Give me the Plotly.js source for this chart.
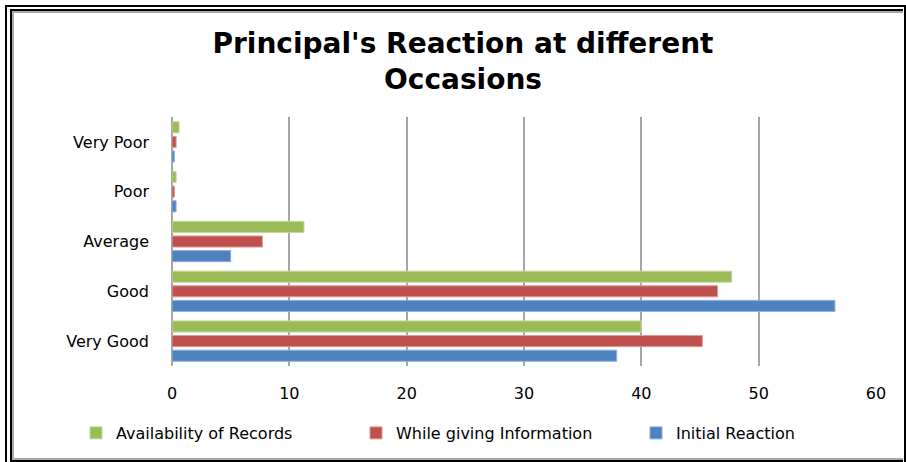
<!DOCTYPE html>
<html>
<head>
<meta charset="utf-8">
<script src="https://cdn.plot.ly/plotly-3.0.1.min.js"></script>
<style>
  html, body { margin: 0; padding: 0; background: #fff; }
  #chart { position: absolute; left: 0; top: 0; width: 906px; height: 462px; }
  .frame { position: absolute; pointer-events: none; box-sizing: border-box; }
</style>
</head>
<body>
<div id="chart"></div>
<div class="frame" style="left:5px; top:5px; width:901px; height:470px; border:2px solid #000;"></div>
<div class="frame" style="left:10px; top:9px; width:893px; height:453px; border:2px solid #000; border-right:none;"></div>
<div class="frame" style="left:12px; top:11px; width:891px; height:449px; border-left:2px solid #a8a8a8; border-top:2px solid #a8a8a8; border-bottom:2px solid #a8a8a8;"></div>
<script>
var categories = ['Very Good', 'Good', 'Average', 'Poor', 'Very Poor'];
var initialReaction = [37.9, 56.5, 5.0, 0.35, 0.2];
var whileGivingInformation = [45.2, 46.5, 7.7, 0.2, 0.35];
var availabilityOfRecords = [40.0, 47.7, 11.25, 0.35, 0.6];
var xTicks = [0, 10, 20, 30, 40, 50, 60];

var traces = [
  {name: 'Initial Reaction', y: categories, x: initialReaction, color: '#4F81BD', edge: '#8EB0DD', legend: 'legend3'},
  {name: 'While giving Information', y: categories, x: whileGivingInformation, color: '#C0504D', edge: '#E09A98', legend: 'legend2'},
  {name: 'Availability of Records', y: categories, x: availabilityOfRecords, color: '#9BBB59', edge: '#C3D89A', legend: 'legend'}
].map(function (s) {
  return {
    type: 'bar', orientation: 'h', name: s.name, x: s.x, y: s.y,
    marker: {color: s.color, line: {color: s.edge, width: 1}},
    legend: s.legend,
    hoverinfo: 'x+name'
  };
});

function legendAt(px) {
  return {
    orientation: 'h',
    xref: 'container', yref: 'container',
    x: px / 906, xanchor: 'left', y: 1 - 416 / 462, yanchor: 'top',
    font: {family: 'DejaVu Sans', size: 16, color: '#000'},
    bgcolor: 'rgba(0,0,0,0)'
  };
}

var layout = {
  width: 906, height: 462,
  margin: {l: 172, r: 30, t: 117, b: 96},
  paper_bgcolor: '#fff', plot_bgcolor: '#fff',
  barmode: 'group', bargap: 0.12, bargroupgap: 0.24,
  title: {
    text: "Principal's Reaction at different<br>Occasions",
    font: {family: 'DejaVu Sans', size: 28, color: '#000', weight: 'bold'},
    x: 463 / 906, xref: 'container', xanchor: 'center',
    y: 1 - 53 / 462, yref: 'container', yanchor: 'middle'
  },
  xaxis: {
    range: [0, 60], tickvals: xTicks, ticktext: xTicks.map(String),
    showgrid: true, gridcolor: '#a6a6a6', gridwidth: 2,
    zeroline: true, zerolinecolor: '#a6a6a6', zerolinewidth: 2,
    showline: false, ticks: '', ticklabelstandoff: 16,
    tickfont: {family: 'DejaVu Sans', size: 16, color: '#000'},
    fixedrange: true
  },
  yaxis: {
    type: 'category', categoryorder: 'array', categoryarray: categories,
    showgrid: false, zeroline: false, showline: false, ticks: '',
    ticklabelstandoff: 22,
    tickfont: {family: 'DejaVu Sans', size: 16, color: '#000'},
    fixedrange: true
  },
  showlegend: true,
  legend: legendAt(76),
  legend2: legendAt(356),
  legend3: legendAt(636)
};

Plotly.newPlot('chart', traces, layout, {displayModeBar: false, staticPlot: true});
</script>
</body>
</html>
